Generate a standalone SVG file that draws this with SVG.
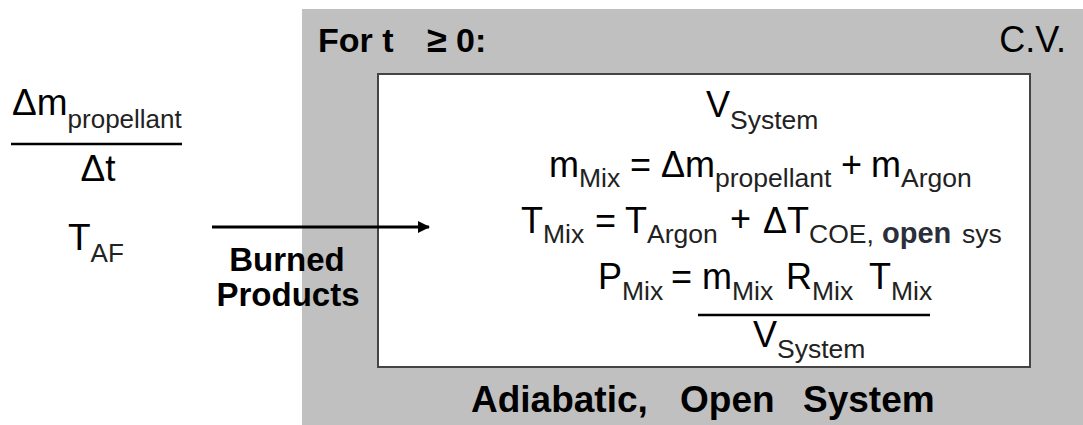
<svg xmlns="http://www.w3.org/2000/svg" width="1083" height="425" viewBox="0 0 1083 425">
<style>
text{font-family:"Liberation Sans",Arial,sans-serif;fill:#000;}
.b{font-weight:bold;}
.m{font-size:36px;}
.s{font-size:26.5px;fill:#222;}
.ls{font-size:26px;fill:#222;}
.bar{stroke:#000;stroke-width:2.5;}
</style>
<defs>
<marker id="ah" markerWidth="12" markerHeight="12" refX="11" refY="6" orient="auto" markerUnits="userSpaceOnUse">
<path d="M0,0 L12,6 L0,12 z" fill="#000"/>
</marker>
</defs>
<rect width="1083" height="425" fill="#fff"/>
<g id="control-volume">
<rect x="302" y="9" width="781" height="416" fill="#c0c0c0"/>
<text class="b" font-size="34" y="52"><tspan x="318">For t</tspan><tspan x="427" font-size="36">≥</tspan><tspan x="456">0:</tspan></text>
<text font-size="36" x="1066" y="52" text-anchor="end">C.V.</text>
<text class="b" font-size="37" y="412"><tspan x="471">Adiabatic,</tspan><tspan x="680">Open</tspan><tspan x="803">System</tspan></text>
</g>
<g id="system">
<rect x="378" y="74" width="652" height="293" fill="#fff" stroke="#444" stroke-width="2"/>
<text class="m" x="706" y="117">V<tspan class="s" dy="12">System</tspan></text>
<text class="m" y="177"><tspan x="549">m</tspan><tspan class="s" dy="10">Mix</tspan><tspan x="630" dy="-10">=</tspan><tspan x="661">Δm</tspan><tspan class="s" dy="10">propellant</tspan><tspan x="841" dy="-10">+</tspan><tspan x="871">m</tspan><tspan class="s" dy="10">Argon</tspan></text>
<text class="m" y="233"><tspan x="521">T</tspan><tspan class="s" dy="10">Mix</tspan><tspan x="595" dy="-10">=</tspan><tspan x="625">T</tspan><tspan class="s" dy="10">Argon</tspan><tspan x="730" dy="-12">+</tspan><tspan x="763" dy="2">ΔT</tspan><tspan class="s" dy="10">COE</tspan><tspan class="s">,</tspan><tspan class="b" x="882" font-size="29" fill="#2a2f3a">open</tspan><tspan class="s" x="962">sys</tspan></text>
<text class="m" y="289"><tspan x="598">P</tspan><tspan class="s" dy="11">Mix</tspan><tspan x="671" dy="-11">=</tspan><tspan x="702">m</tspan><tspan class="s" dy="11">Mix</tspan><tspan x="786" dy="-11">R</tspan><tspan class="s" dy="11">Mix</tspan><tspan x="869" dy="-11">T</tspan><tspan class="s" dy="11">Mix</tspan></text>
<line class="bar" x1="698" y1="315" x2="930" y2="315"/>
<text class="m" x="753" y="347">V<tspan class="s" dy="11">System</tspan></text>
</g>
<g id="inflow">
<text font-size="37" x="12" y="115">Δm<tspan class="ls" dy="13">propellant</tspan></text>
<line class="bar" x1="11" y1="144" x2="182" y2="144"/>
<text font-size="37" x="98" y="181" text-anchor="middle">Δt</text>
<text font-size="37" x="68" y="250">T<tspan class="ls" dy="12">AF</tspan></text>
</g>
<g id="connectors">
<line x1="212" y1="227" x2="429" y2="227" stroke="#000" stroke-width="3" marker-end="url(#ah)"/>
<text class="b" font-size="33" text-anchor="middle"><tspan x="287" y="271">Burned</tspan><tspan x="288" y="306">Products</tspan></text>
</g>
</svg>
